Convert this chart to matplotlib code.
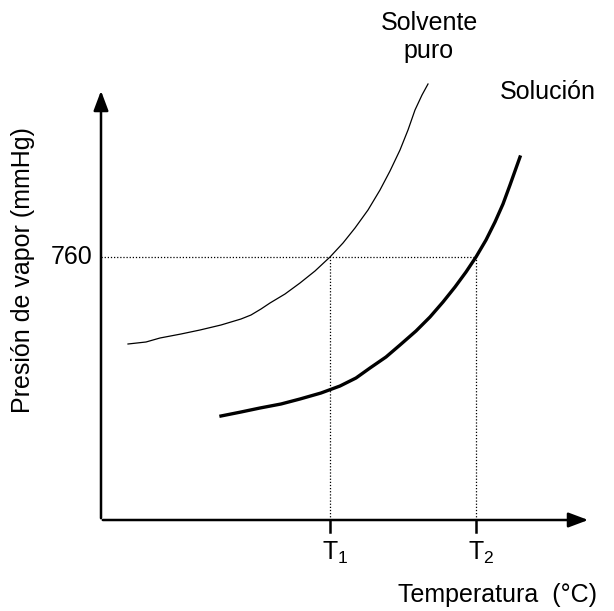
import matplotlib.pyplot as plt

plt.rcParams['font.family'] = ['Liberation Sans', 'DejaVu Sans']
plt.rcParams['mathtext.fontset'] = 'custom'
plt.rcParams['mathtext.rm'] = 'Liberation Sans'
plt.rcParams['mathtext.it'] = 'Liberation Sans'

# curves (temperature, pressure in arbitrary units)
solvente_t = [27, 45, 59, 80, 99, 120, 140, 150, 160, 169, 184, 199, 214, 229, 242, 254, 267, 279, 289, 299, 307, 314, 321, 327]
solvente_p = [176, 178, 182, 186, 190, 195, 201, 205, 211, 217, 226, 237, 249, 263, 277, 292, 310, 330, 349, 370, 390, 410, 425, 436]

solucion_t = [120, 140, 159, 180, 199, 220, 239, 255, 269, 285, 299, 315, 329, 342, 354, 365, 375, 385, 394, 402, 409, 414, 419]
solucion_p = [104, 108, 112, 116, 121, 127, 134, 142, 152, 163, 175, 189, 203, 218, 233, 248, 263, 280, 298, 316, 335, 349, 363]

t1, t2 = 229, 375
p760 = 263

fig = plt.figure(figsize=(6.14, 6.11), dpi=100)
ax = fig.add_axes([0, 0, 1, 1])
ax.set_xlim(-101, 513)
ax.set_ylim(-91, 520)
ax.axis('off')

fs = 18

# axes with arrows
ax.annotate('', xy=(490, 0), xytext=(-1, 0),
            arrowprops=dict(arrowstyle='-|>,head_length=1.2,head_width=0.45', color='black', lw=1.8))
ax.annotate('', xy=(0, 432), xytext=(0, -1),
            arrowprops=dict(arrowstyle='-|>,head_length=1.2,head_width=0.45', color='black', lw=1.8))

# dotted guide lines
ax.plot([0, t2], [p760, p760], color='black', lw=0.9, ls=(0, (1, 1.5)))
ax.plot([t1, t1], [0, p760], color='black', lw=0.9, ls=(0, (1, 1.5)))
ax.plot([t2, t2], [0, p760], color='black', lw=0.9, ls=(0, (1, 1.5)))

# tick marks
for t in (t1, t2):
    ax.plot([t, t], [0, -12], color='black', lw=1.8)

# curves
ax.plot(solvente_t, solvente_p, color='black', lw=0.9)
ax.plot(solucion_t, solucion_p, color='black', lw=2.4)

# labels
ax.text(-9, p760, '760', ha='right', va='center', fontsize=fs)
ax.text(t1 + 5, -40, r'T$_1$', ha='center', va='baseline', fontsize=fs)
ax.text(t2 + 5, -40, r'T$_2$', ha='center', va='baseline', fontsize=fs)
ax.text(396, -75, 'Temperatura  (°C)', ha='center', va='center', fontsize=fs)
ax.text(-78, 250, 'Presión de vapor (mmHg)', ha='center', va='center', rotation=90, fontsize=fs)
ax.text(328, 483, 'Solvente\npuro', ha='center', va='center', fontsize=fs, linespacing=1.2)
ax.text(399, 428, 'Solución', ha='left', va='center', fontsize=fs)

fig.savefig('out.png', dpi=100)
